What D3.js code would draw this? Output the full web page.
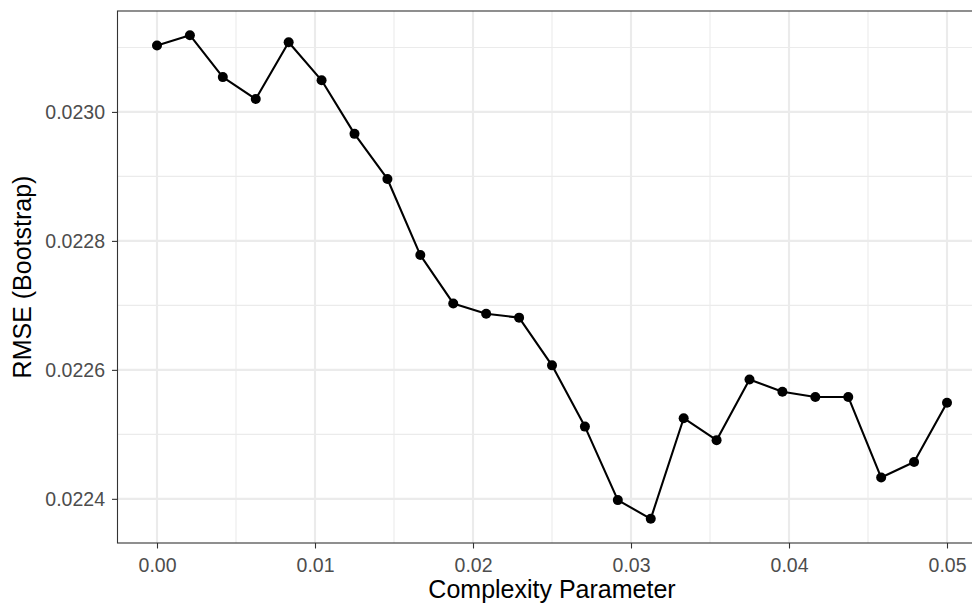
<!DOCTYPE html>
<html>
<head>
<meta charset="utf-8">
<script src="https://cdn.jsdelivr.net/npm/d3@7"></script>
<style>
  body { margin: 0; background: #fff; }
  text { font-family: "Liberation Sans", Arial, sans-serif; }
</style>
</head>
<body>
<script>
// cp values tried by the bootstrap tuning and the RMSE read for each
var cpValues = d3.range(25).map(function(i) { return i * 0.05 / 24; });
var rmseValues = [0.023103, 0.023119, 0.023054, 0.023020, 0.023108, 0.023049, 0.022966, 0.022896,
                  0.022778, 0.022703, 0.022687, 0.022681, 0.022607, 0.022512, 0.022398, 0.022369,
                  0.022525, 0.022491, 0.022585, 0.022566, 0.022558, 0.022558, 0.022433, 0.022457,
                  0.022549];
var xTicks = [0, 0.01, 0.02, 0.03, 0.04, 0.05];
var xMinor = [0.005, 0.015, 0.025, 0.035, 0.045];
var yTicks = [0.0224, 0.0226, 0.0228, 0.0230];
var yMinor = [0.0225, 0.0227, 0.0229, 0.0231];

var data = cpValues.map(function(d, i) { return {cp: d, rmse: rmseValues[i]}; });

var width = 972, height = 605;
var panel = {left: 117.5, top: 11, right: 986.5, bottom: 543};

var svg = d3.select("body").append("svg")
    .attr("width", width)
    .attr("height", height);

// ggplot style 5% expansion
function expand(ext) {
    var w = ext[1] - ext[0];
    return [ext[0] - 0.05 * w, ext[1] + 0.05 * w];
}

var x = d3.scaleLinear()
    .domain(expand(d3.extent(cpValues)))
    .range([panel.left, panel.right]);
var y = d3.scaleLinear()
    .domain(expand(d3.extent(rmseValues)))
    .range([panel.bottom, panel.top]);

var g = svg.append("g");

// minor grid
g.selectAll(".xminor").data(xMinor).enter().append("line")
    .attr("x1", d => x(d)).attr("x2", d => x(d))
    .attr("y1", panel.top).attr("y2", panel.bottom)
    .attr("stroke", "#EBEBEB").attr("stroke-width", 1.1);
g.selectAll(".yminor").data(yMinor).enter().append("line")
    .attr("y1", d => y(d)).attr("y2", d => y(d))
    .attr("x1", panel.left).attr("x2", panel.right)
    .attr("stroke", "#EBEBEB").attr("stroke-width", 1.1);

// major grid
g.selectAll(".xmajor").data(xTicks).enter().append("line")
    .attr("x1", d => x(d)).attr("x2", d => x(d))
    .attr("y1", panel.top).attr("y2", panel.bottom)
    .attr("stroke", "#EBEBEB").attr("stroke-width", 2.1);
g.selectAll(".ymajor").data(yTicks).enter().append("line")
    .attr("y1", d => y(d)).attr("y2", d => y(d))
    .attr("x1", panel.left).attr("x2", panel.right)
    .attr("stroke", "#EBEBEB").attr("stroke-width", 2.1);

// line + points
var line = d3.line().x(d => x(d.cp)).y(d => y(d.rmse));
g.append("path").datum(data)
    .attr("d", line)
    .attr("fill", "none")
    .attr("stroke", "#000")
    .attr("stroke-width", 2.1)
    .attr("stroke-linejoin", "round");
g.selectAll(".pt").data(data).enter().append("circle")
    .attr("cx", d => x(d.cp))
    .attr("cy", d => y(d.rmse))
    .attr("r", 5)
    .attr("fill", "#000");

// panel border
g.append("rect")
    .attr("x", panel.left).attr("y", panel.top)
    .attr("width", panel.right - panel.left)
    .attr("height", panel.bottom - panel.top)
    .attr("fill", "none")
    .attr("stroke", "#333333")
    .attr("stroke-width", 1.1);

// axes
var xAxis = d3.axisBottom(x).tickValues(xTicks).tickFormat(d3.format(".2f"))
    .tickSize(5.5).tickPadding(9.5);
var yAxis = d3.axisLeft(y).tickValues(yTicks).tickFormat(d3.format(".4f"))
    .tickSize(5.5).tickPadding(7);

var gx = svg.append("g").attr("transform", "translate(0," + panel.bottom + ")").call(xAxis);
var gy = svg.append("g").attr("transform", "translate(" + panel.left + ",0)").call(yAxis);

[gx, gy].forEach(function(ax) {
    ax.select(".domain").remove();
    ax.selectAll(".tick line").attr("stroke", "#333333").attr("stroke-width", 1.1);
    ax.selectAll(".tick text")
        .attr("fill", "#4D4D4D")
        .style("font-size", "19.5px")
        .style("font-family", "'Liberation Sans', Arial, sans-serif");
});

// axis titles
svg.append("text")
    .attr("x", (panel.left + panel.right) / 2)
    .attr("y", 598)
    .attr("text-anchor", "middle")
    .style("font-size", "25px")
    .attr("fill", "#000")
    .text("Complexity Parameter");

svg.append("text")
    .attr("transform", "translate(31," + ((panel.top + panel.bottom) / 2) + ") rotate(-90)")
    .attr("text-anchor", "middle")
    .style("font-size", "25px")
    .attr("fill", "#000")
    .text("RMSE (Bootstrap)");
</script>
</body>
</html>
